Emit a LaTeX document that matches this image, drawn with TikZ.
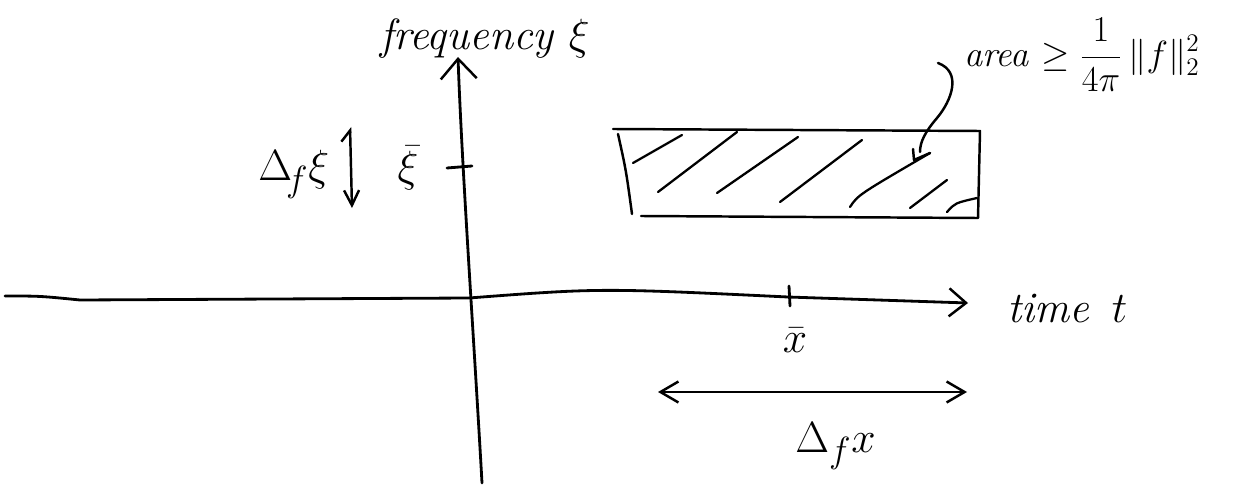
\documentclass[tikz,border=0pt]{standalone}
\usepackage{fontspec}
\usetikzlibrary{arrows.meta}
\begin{document}
\begin{tikzpicture}[x=0.02cm,y=-0.02cm,
  axis/.style={line width=1.6pt,line cap=round,line join=round},
  hatch/.style={line width=1.3pt,line cap=round},
  pen/.style={line width=1.4pt,line cap=round,line join=round},
  barb/.style={-{Straight Barb[length=0.34cm,width=0.56cm,line width=1.4pt]}},
  dbarb/.style={{Straight Barb[length=0.36cm,width=0.42cm,line width=1.4pt]}-{Straight Barb[length=0.36cm,width=0.42cm,line width=1.4pt]}},
  lbl/.style={inner sep=0pt,font=\Huge},
  smalllbl/.style={inner sep=0pt,font=\huge}]
\useasboundingbox (0,0) rectangle (1253,486);

% axes
\coordinate (hl) at (5,296);
\coordinate (ht) at (968,303);
\coordinate (vb) at (482,483);
\coordinate (vt) at (458,57);
\draw[axis,barb] (hl) .. controls (40,296) .. (80,300) -- (469,298)
   .. controls (600,288) .. (788,297) -- (ht);
\draw[axis,-{Straight Barb[length=0.4cm,width=0.72cm,line width=1.4pt]}]
   (vb) .. controls (474,340) and (462,170) .. (vt);

% ticks
\coordinate (xt1) at (789,286); \coordinate (xt2) at (790,306);
\draw[axis] (xt1) -- (xt2);
\coordinate (yt1) at (447,168); \coordinate (yt2) at (472,166);
\draw[axis] (yt1) -- (yt2);

% labels
\node[lbl,anchor=base west] (freq) at (380,50) {\itshape frequency $\xi$};
\node[lbl,anchor=base west] (time) at (1007,322) {\itshape time\, $t$};
\node[lbl] (xibar) at (408,168) {$\bar{\xi}$};
\node[lbl] (xbar) at (795,340) {$\bar{x}$};
\node[lbl,anchor=base west] (dxi) at (258,181) {$\Delta_{\!f}\xi$};
\node[lbl,anchor=base west] (dx) at (795,452) {$\Delta_f x$};
\node[smalllbl,anchor=west] (area) at (964,55) {\itshape area $\displaystyle\geq \frac{1}{4\pi}\,\|f\|_2^2$};

% vertical double arrow
\coordinate (da1) at (350,127); \coordinate (da2) at (352,208);
\draw[pen,{Straight Barb[harpoon,length=0.22cm,width=0.36cm,line width=1.4pt]}-{Straight Barb[length=0.3cm,width=0.3cm,line width=1.4pt]}] (da1) -- (da2);

% horizontal double arrow
\coordinate (ha1) at (658,392); \coordinate (ha2) at (967,392);
\draw[pen,dbarb] (ha1) -- (ha2);

% box
\coordinate (b1) at (613,129); \coordinate (b2) at (980,131);
\coordinate (b3) at (978,218); \coordinate (b4) at (641,216);
\coordinate (b5) at (618,134); \coordinate (b6) at (632,214);
\draw[pen] (b1) -- (b2) -- (b3) -- (b4);
\draw[pen] (b5) .. controls (626,170) .. (b6);

% hatching
\draw[hatch] (633,163) -- (682,135);
\draw[hatch] (658,192) -- (737,132);
\draw[hatch] (717,193) -- (798,137);
\draw[hatch] (780,202) -- (862,140);
\draw[hatch] (850,207) .. controls (858,195) .. (930,153);
\draw[hatch] (910,208) -- (947,180);
\draw[hatch] (947,212) .. controls (955,203) .. (977,198);

% leader from label into box
\coordinate (l1) at (938,63);
\coordinate (l2) at (920,152);
\draw[pen] (l1) .. controls (962,72) and (952,100) .. (937,118)
   .. controls (925,132) and (920,142) .. (l2);
\draw[pen] (913,149) -- (914,160) -- (930,153);
\end{tikzpicture}
\end{document}
